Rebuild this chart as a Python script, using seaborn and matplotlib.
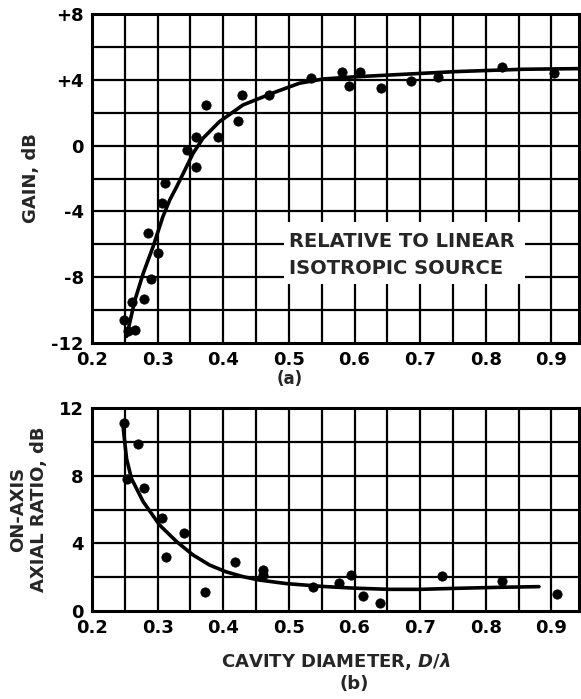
import numpy as np
import pandas as pd
import matplotlib
matplotlib.use("Agg")
import matplotlib.pyplot as plt
import seaborn as sns
from matplotlib.patches import Rectangle

# ---- data ----
gain_x = [0.248, 0.255, 0.261, 0.266, 0.279, 0.286, 0.290, 0.300, 0.306, 0.311,
          0.344, 0.358, 0.358, 0.374, 0.392, 0.423, 0.429, 0.469,
          0.533, 0.581, 0.592, 0.608, 0.640, 0.686, 0.727, 0.825, 0.904]
gain_y = [-10.6, -11.3, -9.5, -11.2, -9.3, -5.3, -8.1, -6.5, -3.5, -2.3,
          -0.25, 0.55, -1.3, 2.45, 0.5, 1.5, 3.1, 3.05,
          4.1, 4.5, 3.6, 4.45, 3.5, 3.9, 4.2, 4.8, 4.4]

gain_curve_x = [0.2527, 0.2654, 0.278, 0.293, 0.308, 0.3185, 0.329, 0.339, 0.354,
                0.369, 0.394, 0.430, 0.455, 0.481, 0.516, 0.552, 0.600, 0.653,
                0.755, 0.856, 0.944]
gain_curve_y = [-11.6, -9.39, -7.77, -6.15, -4.32, -3.3, -2.5, -1.69, -0.47,
                0.44, 1.45, 2.47, 2.87, 3.28, 3.79, 4.05, 4.18, 4.29,
                4.5, 4.64, 4.68]

ar_x = [0.249, 0.254, 0.270, 0.279, 0.307, 0.312, 0.340, 0.372, 0.418, 0.460, 0.460,
        0.536, 0.576, 0.594, 0.613, 0.639, 0.734, 0.825, 0.909]
ar_y = [11.1, 7.8, 9.85, 7.25, 5.5, 3.2, 4.6, 1.1, 2.9, 2.4, 2.1,
        1.4, 1.65, 2.1, 0.9, 0.5, 2.05, 1.8, 1.0]

ar_curve_x = [0.2476, 0.2527, 0.260, 0.278, 0.303, 0.329, 0.354, 0.379, 0.404,
              0.430, 0.455, 0.496, 0.552, 0.600, 0.653, 0.700, 0.755, 0.820, 0.881]
ar_curve_y = [10.8, 9.0, 7.84, 6.46, 5.08, 4.1, 3.31, 2.72, 2.32,
              2.03, 1.83, 1.62, 1.45, 1.35, 1.28, 1.28, 1.34, 1.40, 1.44]

x_ticks = [0.2, 0.3, 0.4, 0.5, 0.6, 0.7, 0.8, 0.9]
x_ticklabels = ["0.2", "0.3", "0.4", "0.5", "0.6", "0.7", "0.8", "0.9"]
gain_ticks = [8, 4, 0, -4, -8, -12]
gain_ticklabels = ["+8", "+4", "0", "-4", "-8", "-12"]
ar_ticks = [0, 4, 8, 12]
ar_ticklabels = ["0", "4", "8", "12"]

sns.set_theme(style="white")
plt.rcParams['font.family'] = ['DejaVu Sans']
plt.rcParams['font.weight'] = 'bold'
plt.rcParams['mathtext.fontset'] = 'dejavusans'

fig = plt.figure(figsize=(5.81, 6.99), dpi=100)
W, H = 581, 699
def rect(l, t, r, b):
    return [l / W, 1 - b / H, (r - l) / W, (b - t) / H]

ax1 = fig.add_axes(rect(92, 14, 579, 343))
ax2 = fig.add_axes(rect(92, 408, 579, 611))

XMAX = 0.942
grid_kw = dict(color="black", lw=1.6, zorder=1)
fs = 13

def style(ax, ymin, ymax, yticks, ylabels):
    ax.set_xlim(0.2, XMAX)
    ax.set_ylim(ymin, ymax)
    for gx in np.arange(0.25, XMAX, 0.05):
        ax.axvline(gx, **grid_kw)
    for gy in np.arange(ymin + 2, ymax, 2):
        ax.axhline(gy, **grid_kw)
    ax.set_xticks(x_ticks)
    ax.set_xticklabels(x_ticklabels, fontsize=fs, fontweight="bold")
    ax.set_yticks(yticks)
    ax.set_yticklabels(ylabels, fontsize=fs, fontweight="bold")
    ax.tick_params(length=0, pad=6, colors="black")
    for s in ax.spines.values():
        s.set_visible(True)
        s.set_color("black")
        s.set_linewidth(2.2)

df_g = pd.DataFrame({"x": gain_x, "y": gain_y})
df_gc = pd.DataFrame({"x": gain_curve_x, "y": gain_curve_y})
df_a = pd.DataFrame({"x": ar_x, "y": ar_y})
df_ac = pd.DataFrame({"x": ar_curve_x, "y": ar_curve_y})

style(ax1, -12, 8, gain_ticks, gain_ticklabels)
sns.lineplot(data=df_gc, x="x", y="y", ax=ax1, color="black", lw=2.6, zorder=3)
sns.scatterplot(data=df_g, x="x", y="y", ax=ax1, color="black", s=45,
                edgecolor="black", zorder=4)
ax1.set_xlabel("")
ax1.set_ylabel("GAIN, dB", fontsize=fs, fontweight="bold", labelpad=8)

def dx(px):
    return 0.2 + (px - 92) / 658.0
def dy(py):
    return 8 - (py - 14) / 16.45
ax1.add_patch(Rectangle((dx(284), dy(284)), dx(526) - dx(284), dy(222) - dy(284),
                        facecolor="white", edgecolor="none", zorder=2))
ax1.text(dx(289), dy(241), "RELATIVE TO LINEAR", fontsize=14, fontweight="bold",
         va="center", ha="left", zorder=5)
ax1.text(dx(289), dy(268), "ISOTROPIC SOURCE", fontsize=14, fontweight="bold",
         va="center", ha="left", zorder=5)

style(ax2, 0, 12, ar_ticks, ar_ticklabels)
sns.lineplot(data=df_ac, x="x", y="y", ax=ax2, color="black", lw=2.6, zorder=3)
sns.scatterplot(data=df_a, x="x", y="y", ax=ax2, color="black", s=45,
                edgecolor="black", zorder=4)
ax2.set_xlabel("CAVITY DIAMETER, $\\mathit{D/\\lambda}$", fontsize=fs, fontweight="bold", labelpad=10)
ax2.set_ylabel("ON-AXIS\nAXIAL RATIO, dB", fontsize=fs, fontweight="bold", labelpad=8)

fig.text(290 / W, 1 - 379 / H, "(a)", fontsize=12, fontweight="bold", ha="center", va="center")
fig.text(354 / W, 1 - 684 / H, "(b)", fontsize=13, fontweight="bold", ha="center", va="center")

fig.savefig("out.png", dpi=100)
